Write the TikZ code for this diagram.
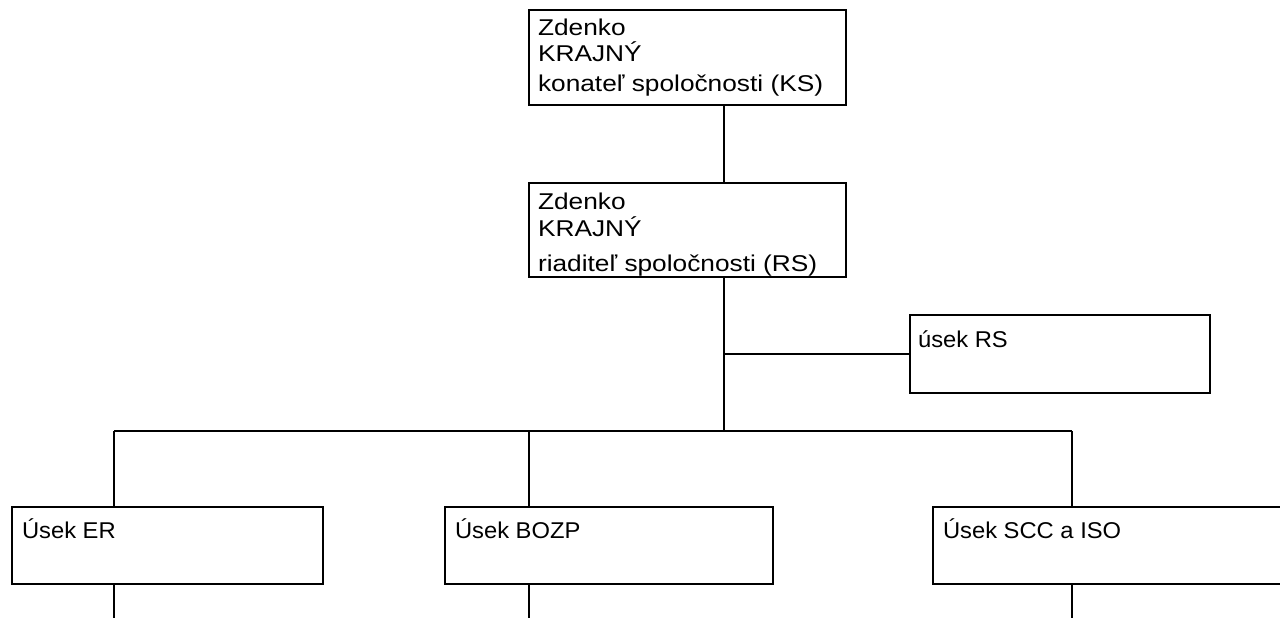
\documentclass[tikz,border=0pt]{standalone}
\usepackage{fontspec}
\setmainfont{Liberation Sans}[FakeStretch=1.04]
\newfontfamily\headfont{Liberation Sans}[FakeStretch=1.15]
\usetikzlibrary{positioning}

\begin{document}
\begin{tikzpicture}[
    x=0.02cm, y=-0.02cm,
    line width=0.8pt,
    unit/.style={draw, rectangle, inner sep=0pt},
    caption/.style={font=\fontsize{13}{14.7}\selectfont, align=left,
      inner sep=0pt, anchor=base west},
    headcaption/.style={caption, font=\headfont\fontsize{13}{14.7}\selectfont}
  ]
  \useasboundingbox (0,0) rectangle (1280,618);
  \coordinate (spine) at (724,0);
  \coordinate (bus) at (0,431);
  \coordinate (edge) at (0,620);
  \coordinate (erx) at (114,0);
  \coordinate (bozpx) at (529,0);
  \coordinate (sccx) at (1072,0);

  % boxes
  \node[unit, minimum width=6.34cm, minimum height=1.9cm] (ks) at (687.5,57.5) {};
  \node[unit, minimum width=6.34cm, minimum height=1.88cm] (rs) at (687.5,230) {};
  \node[unit, minimum width=6cm, minimum height=1.56cm] (usekrs) at (1060,354) {};
  \node[unit, minimum width=6.22cm, minimum height=1.54cm] (er) at (167.5,545.5) {};
  \node[unit, minimum width=6.56cm, minimum height=1.54cm] (bozp) at (609,545.5) {};
  \node[unit, minimum width=7.34cm, minimum height=1.54cm] (scc) at (1116.5,545.5) {};

  % texts (anchored at the baseline of the last line)
  \node[headcaption] (kstext) at ([shift={(9,82)}]ks.north west)
    {Zdenko\\KRAJNÝ\\[2.3pt]konateľ spoločnosti (KS)};
  \node[headcaption] (rstext) at ([shift={(9,89)}]rs.north west)
    {Zdenko\\[0.9pt]KRAJNÝ\\[5.1pt]riaditeľ spoločnosti (RS)};
  \node[caption] (usekrstext) at ([shift={(8,33)}]usekrs.north west) {úsek RS};
  \node[caption] (ertext) at ([shift={(10,32)}]er.north west) {Úsek ER};
  \node[caption] (bozptext) at ([shift={(10,32)}]bozp.north west) {Úsek BOZP};
  \node[caption] (scctext) at ([shift={(10,32)}]scc.north west) {Úsek SCC a ISO};

  % connectors
  \draw (ks.south -| spine) -- (rs.north -| spine);
  \draw (rs.south -| spine) -- (spine |- bus);
  \draw (spine |- usekrs.west) -- (usekrs.west);
  \draw (erx |- bus) -- (sccx |- bus);
  \foreach \d/\b in {erx/er, bozpx/bozp, sccx/scc} {
    \draw (\d |- bus) -- (\b.north -| \d);
    \draw (\b.south -| \d) -- (\d |- edge);
  }
\end{tikzpicture}
\end{document}
